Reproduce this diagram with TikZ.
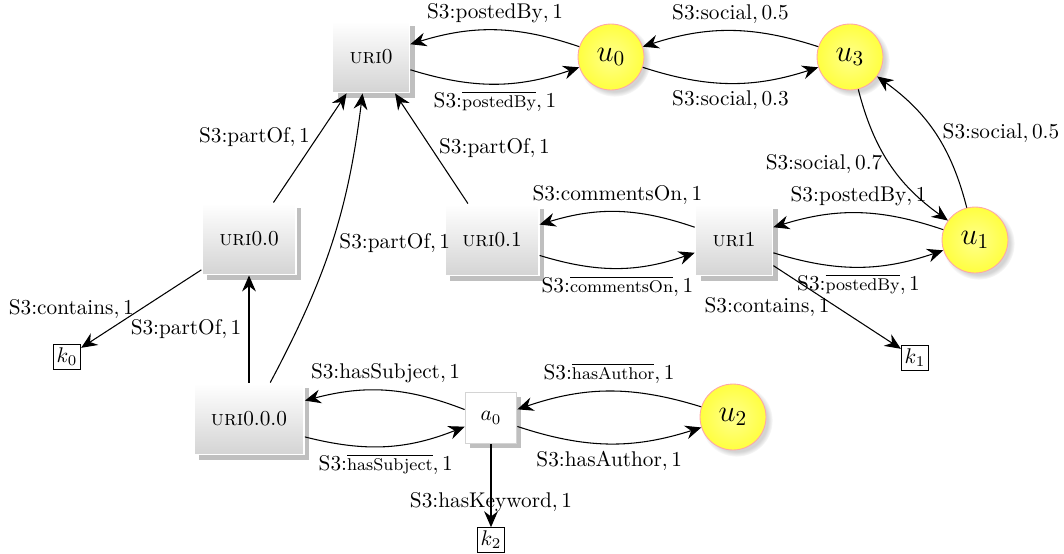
\documentclass[tikz,border=0pt]{standalone}
\usetikzlibrary{arrows.meta,shadows,shadings}
\newcommand\myover[1]{$\overline{\mbox{\footnotesize #1}}$}
\begin{document}
\begin{tikzpicture}[x=0.47pt,y=-0.47pt,
  >={Stealth[length=7.5pt,width=6.5pt,inset=2.5pt]},
  conn/.style={->, line width=0.5pt},
  uribox/.style={rectangle, draw=white, line width=0.8pt, top color=white, bottom color=black!17,
    minimum height=33.5pt, inner xsep=8pt,
    drop shadow={shadow xshift=2.4pt, shadow yshift=-2.4pt, fill=black!25, opacity=1}},
  abox/.style={rectangle, draw=black!17, line width=0.8pt, fill=white, minimum size=24pt,
    drop shadow={shadow xshift=2.2pt, shadow yshift=-2.2pt, fill=black!25, opacity=1}},
  user/.style={circle, draw=red!35, inner color=yellow!45, outer color=yellow!75, minimum size=31pt,
    font=\Large, circular drop shadow={shadow xshift=1.5pt, shadow yshift=-1.5pt, opacity=0.35}},
  kbox/.style={rectangle, draw, inner sep=1.6pt}]
\useasboundingbox (0,0) rectangle (1064,553);

\node[uribox] (uri0) at (371,57) {\textsc{uri}0};
\node[user] (u0) at (611,57) {$u_0$};
\node[user] (u3) at (850,57) {$u_3$};
\node[user] (u1) at (975,240) {$u_1$};
\node[uribox] (uri00) at (249,239) {\textsc{uri}0.0};
\node[uribox] (uri01) at (492,240) {\textsc{uri}0.1};
\node[uribox] (uri1) at (734,240) {\textsc{uri}1};
\node[uribox] (uri000) at (249,419) {\textsc{uri}0.0.0};
\node[abox] (a0) at (491,418) {$a_0$};
\node[user] (u2) at (733,417) {$u_2$};
\node[kbox] (k0) at (67,357) {$k_0$};
\node[kbox] (k1) at (915,358) {$k_1$};
\node[kbox] (k2) at (491,540) {$k_2$};

\draw[conn] (u0) to[bend right=18] node[above] {S3:postedBy$,1$} (uri0);
\draw[conn] (uri0) to[bend right=18] node[below] {S3:\myover{postedBy}$,1$} (u0);
\draw[conn] (u3) to[bend right=18] node[above] {S3:social$,0.5$} (u0);
\draw[conn] (u0) to[bend right=18] node[below] {S3:social$,0.3$} (u3);
\draw[conn] (u3) to[bend right=20] node[left] {S3:social$,0.7$} (u1);
\draw[conn] (u1) to[bend right=20] node[right] {S3:social$,0.5$} (u3);
\draw[conn] (u1) to[bend right=18] node[above] {S3:postedBy$,1$} (uri1);
\draw[conn] (uri1) to[bend right=18] node[below] {S3:\myover{postedBy}$,1$} (u1);
\draw[conn] (uri1) to[bend right=18] node[above] {S3:commentsOn$,1$} (uri01);
\draw[conn] (uri01) to[bend right=18] node[below] {S3:\myover{commentsOn}$,1$} (uri1);
\draw[conn] (uri1) -- node[left] {S3:contains$,1$} (k1);
\draw[conn] (uri01) -- node[right] {S3:partOf$,1$} (uri0);
\draw[conn] (uri00) -- node[left, pos=0.6] {S3:partOf$,1$} (uri0);
\draw[conn] ([xshift=10pt]uri000.north) to[out=62, in=-97] node[right, pos=0.5] {S3:partOf$,1$} ([xshift=-4pt]uri0.south);
\draw[conn] (uri000) -- node[left] {S3:partOf$,1$} (uri00);
\draw[conn] (uri00) -- node[left] {S3:contains$,1$} (k0);
\draw[conn] (a0) to[bend right=18] node[above] {S3:hasSubject$,1$} (uri000);
\draw[conn] (uri000) to[bend right=18] node[below] {S3:\myover{hasSubject}$,1$} (a0);
\draw[conn] (u2) to[bend right=18] node[above] {S3:\myover{hasAuthor}$,1$} (a0);
\draw[conn] (a0) to[bend right=18] node[below] {S3:hasAuthor$,1$} (u2);
\draw[conn] (a0) -- node[pos=0.7] {S3:hasKeyword$,1$} (k2);
\end{tikzpicture}
\end{document}
